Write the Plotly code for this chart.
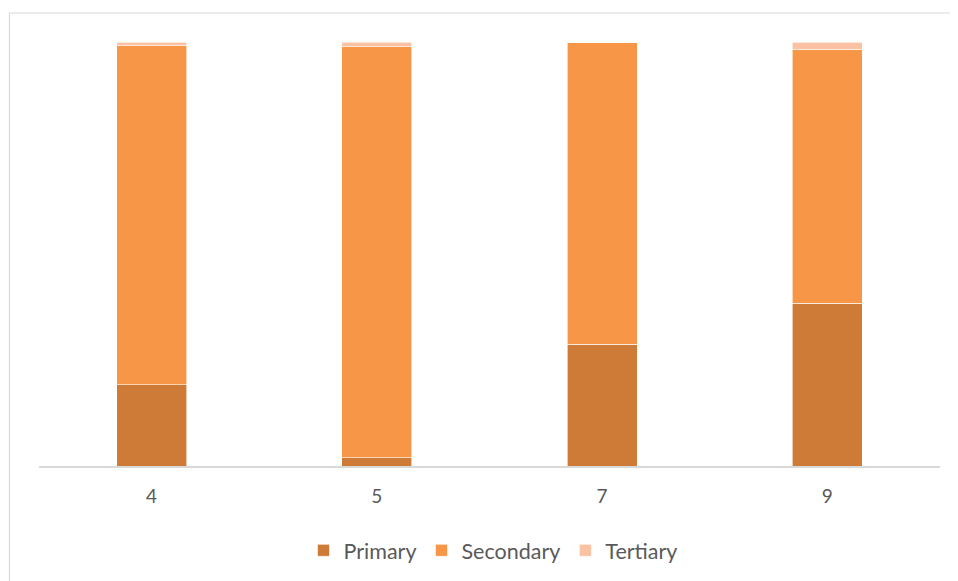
import plotly.graph_objects as go

categories = ["4", "5", "7", "9"]
primary = [19.2, 1.9, 28.7, 38.4]
secondary = [79.9, 97.0, 71.3, 59.95]
tertiary = [0.9, 1.1, 0.0, 1.65]

series_names = ["Primary", "Secondary", "Tertiary"]
series_colors = ["#CD7B37", "#F79646", "#FAC1A2"]

fig = go.Figure()
for name, vals, col in zip(series_names, [primary, secondary, tertiary], series_colors):
    fig.add_trace(go.Bar(
        x=categories, y=vals, name=name,
        marker=dict(color=col, line=dict(color="white", width=0.6)),
        hoverinfo="x+y+name",
    ))

OFF = 8  # page body margin
W, H = 958, 581
L_pg, T_pg = 39, 42
pw, ph = 901, 423.7
L = L_pg - OFF
T = T_pg - OFF
R = W - L - pw
B = H - T - ph

def px_x(p):
    return (p - L_pg) / pw

def px_y(q):
    return (T_pg + ph - q) / ph

fig.add_shape(type="rect", xref="paper", yref="paper",
              x0=px_x(9.5), x1=px_x(990), y0=px_y(13), y1=px_y(620),
              line=dict(color="#D9D9D9", width=1.2), fillcolor="rgba(0,0,0,0)",
              layer="below")

fig.update_layout(
    width=W, height=H,
    margin=dict(l=L, r=R, t=T, b=B, pad=0),
    barmode="stack",
    bargap=0.69,
    plot_bgcolor="white",
    paper_bgcolor="white",
    font=dict(family="Lato, 'Open Sans', sans-serif", color="#595959", size=19),
    showlegend=True,
    legend=dict(orientation="h", x=px_x(493), xanchor="center", y=px_y(550), yanchor="middle",
                font=dict(size=21.5, color="#595959"), traceorder="normal"),
    xaxis=dict(type="category", showline=True, linecolor="#D9D9D9", linewidth=1.5,
               ticks="", tickfont=dict(size=19, color="#595959"), showgrid=False,
               ticklabelstandoff=12),
    yaxis=dict(range=[0, 100], visible=False, showgrid=False, zeroline=False),
)

fig.write_html("out.html")
